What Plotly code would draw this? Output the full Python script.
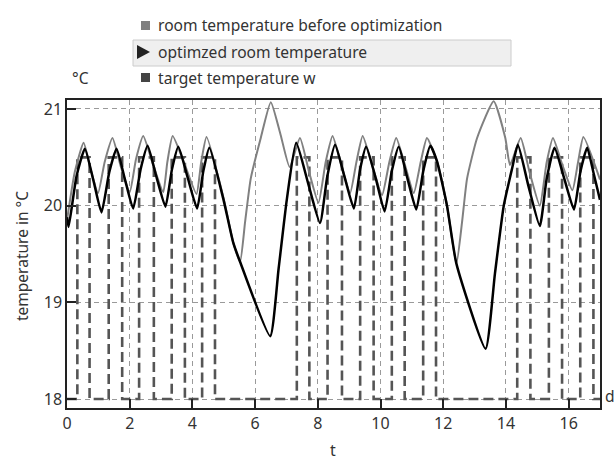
import plotly.graph_objects as go

# ---- data ----
t_opt = [0, 0.05, 0.3, 0.57, 0.85, 1.10, 1.35, 1.58, 1.85, 2.11, 2.35, 2.57, 2.85, 3.14,
         3.35, 3.55, 3.85, 4.15, 4.35, 4.54, 5.0, 5.30, 5.52, 6.48, 6.75, 7.01, 7.31, 7.7,
         8.07, 8.3, 8.55, 8.85, 9.15, 9.35, 9.54, 9.85, 10.13, 10.36, 10.58, 10.86, 11.14,
         11.37, 11.59, 11.8, 12.12, 12.42, 13.35, 13.65, 13.93, 14.2, 14.38, 14.72, 15.08,
         15.3, 15.55, 15.86, 16.17, 16.38, 16.59, 16.8, 17.0]
temp_opt = [19.88, 19.78, 20.30, 20.59, 20.25, 19.93, 20.35, 20.59, 20.27, 19.97, 20.38, 20.62,
            20.30, 19.99, 20.38, 20.61, 20.29, 19.97, 20.36, 20.60, 20.05, 19.62, 19.42, 18.65,
            19.35, 20.06, 20.65, 20.22, 19.82, 20.30, 20.63, 20.30, 19.97, 20.38, 20.61, 20.28,
            19.94, 20.36, 20.61, 20.28, 19.96, 20.37, 20.62, 20.46, 20.0, 19.40, 18.52, 19.3,
            20.0, 20.39, 20.63, 20.2, 19.79, 20.28, 20.60, 20.28, 19.96, 20.36, 20.60, 20.33,
            20.06]

t_before = [0, 0.25, 0.53, 0.75, 0.99, 1.2, 1.45, 1.72, 2.0, 2.2, 2.43, 2.75, 3.07, 3.2, 3.37,
            3.75, 4.13, 4.28, 4.45, 5.0, 5.30, 5.52, 5.68, 5.86, 6.18, 6.50, 6.8, 7.1, 7.43,
            7.72, 8.02, 8.25, 8.47, 8.75, 9.03, 9.23, 9.43, 9.75, 10.05, 10.28, 10.50, 10.78,
            11.06, 11.28, 11.48, 11.8, 12.12, 12.42, 12.60, 12.76, 13.08, 13.61, 13.98, 14.13,
            14.47, 14.75, 15.08, 15.3, 15.50, 15.8, 16.12, 16.3, 16.47, 17.0]
temp_before = [19.85, 20.35, 20.65, 20.38, 20.13, 20.45, 20.70, 20.40, 20.14, 20.48, 20.72, 20.42,
               20.14, 20.45, 20.72, 20.43, 20.12, 20.45, 20.71, 20.07, 19.62, 19.42, 19.83, 20.28,
               20.70, 21.07, 20.75, 20.40, 20.70, 20.35, 20.03, 20.45, 20.72, 20.42, 20.13, 20.45,
               20.72, 20.40, 20.11, 20.45, 20.70, 20.42, 20.13, 20.45, 20.70, 20.46, 20.0, 19.40,
               19.83, 20.28, 20.70, 21.08, 20.70, 20.42, 20.70, 20.35, 20.0, 20.45, 20.70, 20.42,
               20.16, 20.45, 20.71, 20.27]

t_target = [0, 0.33, 0.72, 1.33, 1.76, 2.30, 2.77, 3.34, 3.76, 4.31, 4.72, 7.33, 7.73, 8.31,
            8.77, 9.35, 9.78, 10.36, 10.77, 11.36, 11.77, 14.36, 14.78, 15.37, 15.79, 16.37,
            16.79, 17.0]
w_target = [18, 20.5, 18, 20.5, 18, 20.5, 18, 20.5, 18, 20.5, 18, 20.5, 18, 20.5, 18, 20.5,
            18, 20.5, 18, 20.5, 18, 20.5, 18, 20.5, 18, 20.5, 18, 18]

x_ticks = [0, 2, 4, 6, 8, 10, 12, 14, 16]
y_ticks = [18, 19, 20, 21]

legend_labels = ["room temperature before optimization", "optimzed room temperature",
                 "target temperature w"]
x_title = "t"
y_title = "temperature in °C"
y_unit = "°C"
x_unit = "d"

# ---- figure ----
W, H = 616, 464
L, R, T, B = 67, 600, 100, 408
FONT = "Noto Sans"
TXT = "#333333"

def px(x):
    return (x - L) / (R - L)

def py(y):
    return (B - y) / (B - T)

fig = go.Figure()
fig.add_trace(go.Scatter(x=t_target, y=w_target, mode="lines", line_shape="hv",
                         line=dict(color="#555555", width=2.6, dash="10px,5px"),
                         showlegend=False))
fig.add_trace(go.Scatter(x=t_before, y=temp_before, mode="lines",
                         line=dict(color="#808080", width=2, shape="spline", smoothing=0.5),
                         showlegend=False))
fig.add_trace(go.Scatter(x=t_opt, y=temp_opt, mode="lines",
                         line=dict(color="#000000", width=2.5, shape="spline", smoothing=0.5),
                         showlegend=False))

axis_common = dict(showline=True, linecolor="#222222", linewidth=1.5, mirror=True,
                   ticks="inside", ticklen=9, tickwidth=1.5, tickcolor="#222222",
                   showgrid=True, gridcolor="#9a9a9a", gridwidth=1, griddash="5px,4px",
                   zeroline=False, automargin=False,
                   tickfont=dict(family=FONT, size=16, color=TXT))

fig.update_xaxes(range=[0, 17], tickvals=x_ticks, **axis_common)
fig.update_yaxes(range=[17.907, 21.093], tickvals=y_ticks, **axis_common)

shapes = [
    # highlighted legend row
    dict(type="rect", xref="paper", yref="paper", x0=px(133), x1=px(511), y0=py(66), y1=py(40),
         fillcolor="#efefef", line=dict(color="#cccccc", width=1), layer="below"),
    dict(type="rect", xref="paper", yref="paper", x0=px(141), x1=px(150), y0=py(30), y1=py(21),
         fillcolor="#808080", line=dict(width=0)),
    dict(type="path", xref="paper", yref="paper",
         path=f"M {px(137)} {py(45)} L {px(150)} {py(52)} L {px(137)} {py(59)} Z",
         fillcolor="#222222", line=dict(width=0)),
    dict(type="rect", xref="paper", yref="paper", x0=px(141), x1=px(150), y0=py(82), y1=py(73),
         fillcolor="#444444", line=dict(width=0)),
]

annotations = []
for label, yc in zip(legend_labels, [25, 52, 78]):
    annotations.append(dict(xref="paper", yref="paper", x=px(156), y=py(yc), text=label,
                            showarrow=False, xanchor="left", yanchor="middle",
                            font=dict(family=FONT, size=15.6, color=TXT)))
annotations.append(dict(xref="paper", yref="paper", x=px(70), y=py(78), text=y_unit,
                        showarrow=False, xanchor="left", yanchor="middle",
                        font=dict(family=FONT, size=15.6, color=TXT)))
annotations.append(dict(xref="paper", yref="paper", x=px(603), y=py(396), text=x_unit,
                        showarrow=False, xanchor="left", yanchor="middle",
                        font=dict(family=FONT, size=15.6, color=TXT)))
annotations.append(dict(xref="paper", yref="paper", x=px(333), y=py(450), text=x_title,
                        showarrow=False, xanchor="center", yanchor="middle",
                        font=dict(family=FONT, size=16, color=TXT)))
annotations.append(dict(xref="paper", yref="paper", x=px(22), y=py(256), text=y_title,
                        showarrow=False, xanchor="center", yanchor="middle", textangle=-90,
                        font=dict(family=FONT, size=15.5, color=TXT)))

fig.update_layout(width=W, height=H, autosize=False,
                  margin=dict(l=L, r=W - R, t=T, b=H - B, pad=0),
                  plot_bgcolor="white", paper_bgcolor="white",
                  shapes=shapes, annotations=annotations, showlegend=False)

fig.write_html("out.html")
